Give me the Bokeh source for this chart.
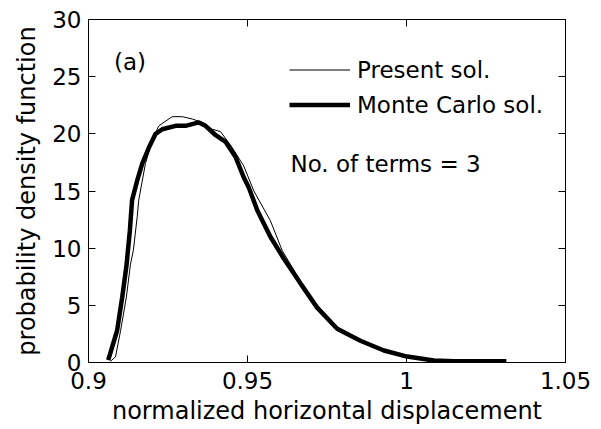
from bokeh.plotting import figure
from bokeh.models import (Range1d, LinearAxis, FixedTicker, Legend, LegendItem, Label)
from bokeh.embed import file_html
from bokeh.resources import INLINE

# Probability density of the normalized horizontal displacement
present_x = [0.9069, 0.9085, 0.9101, 0.9119, 0.9132, 0.9141, 0.9153, 0.9158, 0.9179,
             0.9200, 0.9221, 0.9263, 0.9295, 0.9326, 0.9358, 0.9389, 0.9415, 0.9452,
             0.9488, 0.9520, 0.9572, 0.9609, 0.9667, 0.9719, 0.9782, 0.9855, 0.9929,
             1.0002, 1.0086, 1.0150, 1.0314]
present_y = [0.1, 0.5, 2.8, 5.7, 8.6, 9.8, 12.7, 14.2, 17.4,
             19.4, 20.7, 21.5, 21.5, 21.3, 21.0, 20.4, 20.2, 18.8,
             17.2, 15.0, 12.4, 9.8, 7.1, 5.0, 3.1, 1.95, 1.0,
             0.45, 0.12, 0.05, 0.02]

mc_x = [0.9062, 0.9090, 0.9106, 0.9120, 0.9124, 0.9130, 0.9137, 0.9153, 0.9169,
        0.9190, 0.9211, 0.9232, 0.9274, 0.9305, 0.9347, 0.9368, 0.9399, 0.9431,
        0.9462, 0.9488, 0.9504, 0.9531, 0.9572, 0.9614, 0.9667, 0.9719, 0.9782,
        0.9855, 0.9929, 1.0002, 1.0086, 1.0150, 1.0314]
mc_y = [0.2, 2.8, 5.7, 8.6, 9.8, 11.5, 14.2, 15.9, 17.4,
        18.8, 20.0, 20.4, 20.7, 20.7, 21.0, 20.7, 19.9, 19.3,
        18.0, 16.2, 15.3, 13.3, 11.0, 9.1, 6.9, 4.8, 2.95,
        1.9, 1.05, 0.52, 0.17, 0.1, 0.1]

x_ticks = [0.9, 0.95, 1.0, 1.05]
x_tick_labels = ["0.9", "0.95", "1", "1.05"]
y_ticks = [0, 5, 10, 15, 20, 25, 30]

FONT = "DejaVu Sans"

p = figure(width=601, height=429, output_backend="svg", toolbar_location=None,
           x_range=Range1d(0.9, 1.05), y_range=Range1d(0, 30),
           min_border_left=88, min_border_right=36, min_border_top=19,
           min_border_bottom=67, background_fill_color="white",
           border_fill_color="white")
p.grid.visible = False
p.outline_line_color = "black"
p.outline_line_width = 1


def style_axis(ax, show_labels):
    ax.axis_line_color = "black"
    ax.axis_line_width = 1
    ax.major_tick_in = 7
    ax.major_tick_out = 0
    ax.minor_tick_line_color = None
    ax.major_tick_line_color = "black"
    ax.major_label_text_font = FONT
    ax.major_label_text_font_size = "23px"
    if show_labels:
        ax.major_label_text_color = "black"
    else:
        # box-side axes carry ticks only
        ax.major_label_text_color = None
        ax.major_label_standoff = 0


xb = p.xaxis[0]
yl = p.yaxis[0]
xb.ticker = FixedTicker(ticks=x_ticks)
xb.major_label_overrides = {t: s for t, s in zip(x_ticks, x_tick_labels)}
yl.ticker = FixedTicker(ticks=y_ticks)
style_axis(xb, True)
style_axis(yl, True)
xb.major_label_standoff = 9
yl.major_label_standoff = 7

xb.axis_label = "normalized horizontal displacement"
yl.axis_label = "probability density function"
for ax in (xb, yl):
    ax.axis_label_text_font = FONT
    ax.axis_label_text_font_size = "24px"
    ax.axis_label_text_font_style = "normal"
    ax.axis_label_text_color = "black"
xb.axis_label_standoff = 5
yl.axis_label_standoff = 8

top_ax = LinearAxis(ticker=FixedTicker(ticks=x_ticks))
right_ax = LinearAxis(ticker=FixedTicker(ticks=y_ticks))
style_axis(top_ax, False)
style_axis(right_ax, False)
p.add_layout(top_ax, "above")
p.add_layout(right_ax, "right")

r_present = p.line(present_x, present_y, line_color="black", line_width=1)
r_mc = p.line(mc_x, mc_y, line_color="black", line_width=4.5)

legend = Legend(items=[LegendItem(label="Present sol.", renderers=[r_present]),
                       LegendItem(label="Monte Carlo sol.", renderers=[r_mc])],
                location=(201, 244), orientation="vertical",
                border_line_alpha=0, background_fill_alpha=0,
                label_text_font=FONT, label_text_font_size="23px",
                label_text_color="black",
                glyph_width=61, glyph_height=27, label_height=27,
                label_standoff=7, spacing=8, padding=0, margin=0)
p.add_layout(legend)

p.add_layout(Label(x=0.908, y=26.24, text="(a)", text_font=FONT,
                   text_font_size="23px", text_baseline="alphabetic",
                   text_color="black"))
p.add_layout(Label(x=0.96352, y=17.38, text="No. of terms = 3", text_font=FONT,
                   text_font_size="23px", text_baseline="alphabetic",
                   text_color="black"))

open("out.html", "w").write(file_html(p, INLINE))
